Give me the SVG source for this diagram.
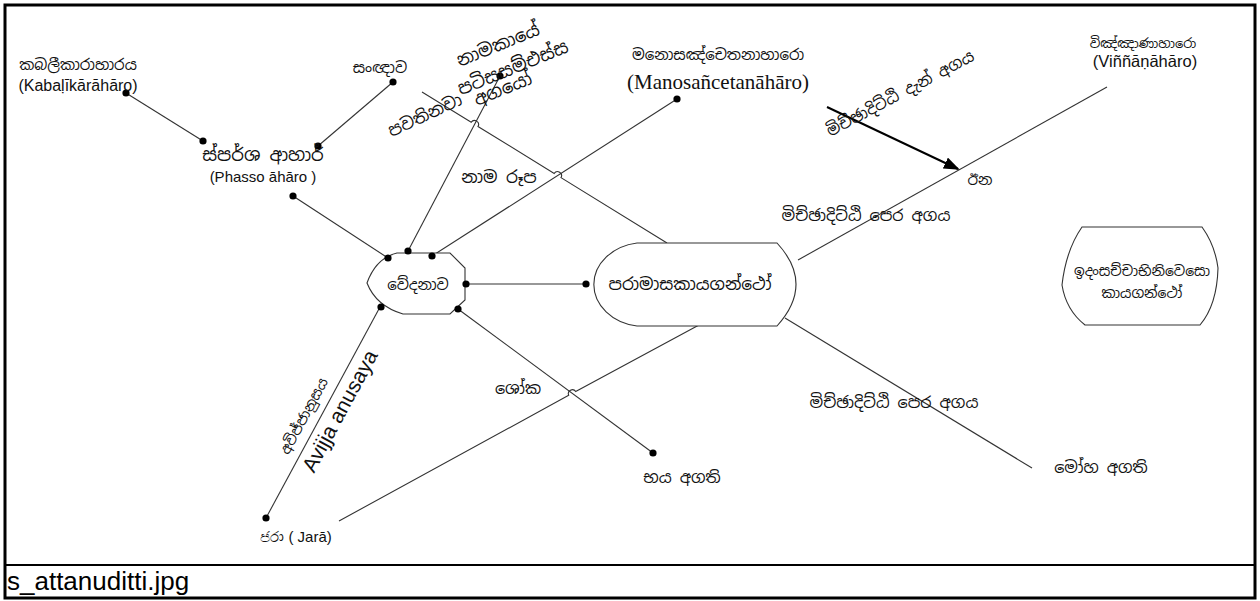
<svg xmlns="http://www.w3.org/2000/svg" width="1260" height="601" viewBox="0 0 1260 601">
<defs>
<style>
.ln{stroke:#333;stroke-width:1.1;fill:none}
.shape{stroke:#333;stroke-width:1.1;fill:#fff}
.dot{fill:#000}
.si{font-family:"Noto Sans Sinhala","Iskoola Pota","Noto Sans",sans-serif;fill:#111;text-anchor:middle}
.la{font-family:"Liberation Sans",Arial,sans-serif;fill:#111;text-anchor:middle}
.se{font-family:"Liberation Serif","Times New Roman",serif;fill:#111;text-anchor:middle}
</style>
<marker id="ah" markerWidth="16" markerHeight="12" refX="14" refY="6" orient="auto" markerUnits="userSpaceOnUse">
<path d="M0,0 L16,6 L0,12 Z" fill="#000"/>
</marker>
</defs>
<rect x="0" y="0" width="1260" height="601" fill="#fff"/>
<rect x="5" y="5" width="1250" height="593" fill="none" stroke="#000" stroke-width="3"/>
<line x1="5" y1="565" x2="1255" y2="565" stroke="#000" stroke-width="2"/>
<text x="7" y="590" font-family="Liberation Sans, Arial, sans-serif" font-size="26" fill="#000">s_attanuditti.jpg</text>

<g id="connectors">
<line class="ln" x1="126" y1="93" x2="203" y2="141"/>
<line class="ln" x1="393" y1="82" x2="318" y2="146"/>
<line class="ln" x1="293" y1="196" x2="388" y2="258"/>
<line class="ln" x1="500" y1="76" x2="408" y2="251"/>
<line class="ln" x1="677" y1="99" x2="432" y2="256"/>
<path class="ln" d="M422,92 L471.2,122.3 A4,4 0 0 1 478,126.5 L554.2,173.4 A4,4 0 0 1 561,177.6 L667,243"/>
<line class="ln" x1="466" y1="284" x2="586" y2="284"/>
<line class="ln" x1="458" y1="309" x2="653" y2="453"/>
<path class="ln" d="M339,521 L568.7,395.3 A4,4 0 0 1 575.7,391.5 L699,325"/>
<line class="ln" x1="266" y1="518" x2="380" y2="307"/>
<line class="ln" x1="798" y1="260" x2="1107" y2="87"/>
<line class="ln" x1="785" y1="318" x2="1032" y2="468"/>
<line x1="827" y1="107" x2="958" y2="169" stroke="#000" stroke-width="2" marker-end="url(#ah)"/>
<g class="dot">
<circle cx="126" cy="93" r="3.6"/>
<circle cx="203" cy="141" r="3.6"/>
<circle cx="393" cy="82" r="3.6"/>
<circle cx="318" cy="146" r="3.6"/>
<circle cx="293" cy="196" r="3.6"/>
<circle cx="500" cy="76" r="3.6"/>
<circle cx="677" cy="99" r="3.6"/>
<circle cx="653" cy="453" r="3.6"/>
<circle cx="266" cy="518" r="3.6"/>
<circle cx="586" cy="284" r="3.6"/>
</g>
</g>

<g id="vedana">
<path class="shape" d="M397,253 L450,253 L465,268 L465,300 L450,314 L403,314 Q376,306 367,283 Q376,258 397,253 Z"/>
<text class="si" x="418" y="290" font-size="15">වේදනාව</text>
<g class="dot">
<circle cx="388" cy="258" r="3.6"/>
<circle cx="408" cy="251" r="3.6"/>
<circle cx="432" cy="256" r="3.6"/>
<circle cx="466" cy="284" r="3.6"/>
<circle cx="458" cy="309" r="3.6"/>
<circle cx="381" cy="307" r="3.6"/>
</g>
</g>

<g id="paramasa">
<path class="shape" d="M637,243 L777,243 Q815,284 777,326 L637,326 A51,42 0 0 1 637,243 Z"/>
<text class="si" x="690" y="290" font-size="17">පරාමාසකායගන්ථෝ</text>
</g>

<g id="idamsacca">
<path class="shape" d="M1082,227 L1202,227 Q1215,245 1218,268 Q1217,305 1200,325 L1085,325 Q1066,310 1062,285 Q1066,250 1082,227 Z"/>
<text class="si" x="1142" y="276" font-size="14">ඉදංසච්චාභිනිවෙසො</text>
<text class="si" x="1142" y="298" font-size="14">කායගන්ථෝ</text>
</g>

<g id="kabalikara">
<text class="si" x="78" y="70" font-size="15">කබලීකාරාහාරය</text>
<text class="la" x="78" y="91" font-size="16">(Kabaḷīkārāhāro)</text>
</g>
<g id="phasso">
<text class="si" x="263" y="161" font-size="18">ස්පර්ශ  ආහාර්</text>
<text class="la" x="263" y="182" font-size="15">(Phasso āhāro )</text>
</g>
<g id="sankhara">
<text class="si" x="380" y="73" font-size="15">සංඥාව</text>
</g>
<g id="namakaye">
<text class="si" font-size="18" transform="translate(498,45) rotate(-22)" y="6">නාමකායේ</text>
<text class="si" font-size="18" transform="translate(513,68) rotate(-22)" y="6">පටිසසම්එස්ස</text>
<text class="si" font-size="18" transform="translate(503,89) rotate(-22)" y="6">අගයෝ</text>
</g>
<g id="pavattati">
<text class="si" font-size="17" transform="translate(425,115) rotate(-25)" y="6">පවතිනවා</text>
</g>
<g id="namarupa">
<text class="si" x="499" y="183" font-size="17">නාම රූප</text>
</g>
<g id="manosancetana">
<text class="si" x="718" y="60" font-size="15">මනොසඤ්චෙතනාහාරො</text>
<text class="se" x="718" y="89" font-size="21">(Manosañcetanāhāro)</text>
</g>
<g id="micca-dan">
<text class="si" font-size="16" transform="translate(900,93) rotate(-28)" y="6">මිච්ඡාදිට්ඨි දැන් අගය</text>
</g>
<g id="vinnana">
<text class="si" x="1143" y="48" font-size="13">විඤ්ඤාණාහාරො</text>
<text class="la" x="1145" y="67" font-size="16.5">(Viññāṇāhāro)</text>
</g>
<g id="ina">
<text class="si" x="980" y="185" font-size="15">ඊන</text>
</g>
<g id="micca-pera-1">
<text class="si" x="866" y="221" font-size="16">මිච්ඡාදිට්ඨි පෙර අගය</text>
</g>
<g id="micca-pera-2">
<text class="si" x="894" y="408" font-size="16">මිච්ඡාදිට්ඨි පෙර අගය</text>
</g>
<g id="moha">
<text class="si" x="1101" y="473" font-size="16">මෝහ අගති</text>
</g>
<g id="soka">
<text class="si" x="518" y="394" font-size="16">ශෝක</text>
</g>
<g id="bhaya">
<text class="si" x="682" y="483" font-size="16">භය අගති</text>
</g>
<g id="jara">
<text class="la" x="296" y="542" font-size="15">ජරා ( Jarā)</text>
</g>
<g id="avijja">
<text class="si" font-size="14" transform="translate(304,416) rotate(-61.6)" y="5">අවිජ්ජානුසය</text>
<text class="la" font-size="21" transform="translate(340,411) rotate(-61.6)" y="7">Avijja anusaya</text>
</g>
</svg>
